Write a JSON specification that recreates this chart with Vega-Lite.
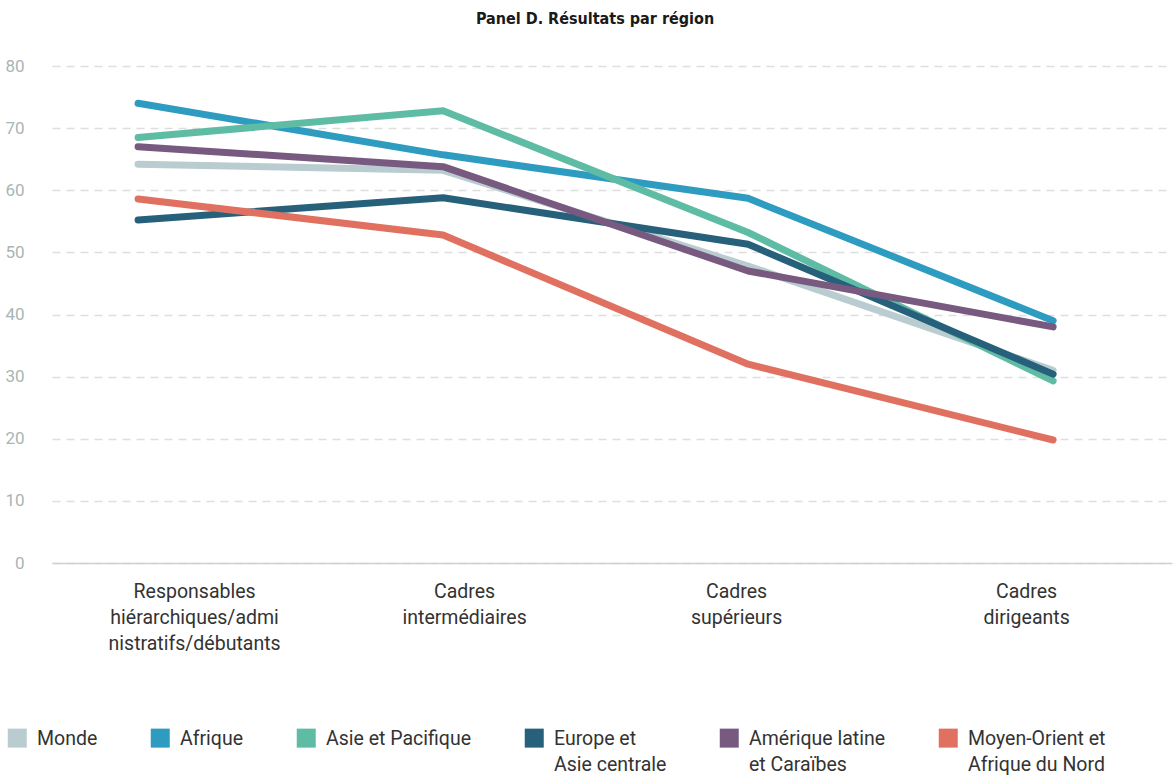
{
  "$schema": "https://vega.github.io/schema/vega-lite/v6.json",
  "width": 1120,
  "height": 497,
  "autosize": {"type": "none"},
  "padding": {"left": 52, "top": 66, "right": 4, "bottom": 216},
  "background": "white",
  "title": {
    "text": "Panel D. Résultats par région",
    "font": "DejaVu Sans Condensed",
    "fontSize": 16,
    "fontWeight": "bold",
    "color": "#1a1a1a",
    "anchor": "middle",
    "frame": "group",
    "dx": -17,
    "offset": 30
  },
  "data": {
    "values": [
      {"region": "Monde", "niveau": "Responsables hiérarchiques/administratifs/débutants", "valeur": 64.2},
      {"region": "Monde", "niveau": "Cadres intermédiaires", "valeur": 63.2},
      {"region": "Monde", "niveau": "Cadres supérieurs", "valeur": 47.8},
      {"region": "Monde", "niveau": "Cadres dirigeants", "valeur": 31.0},
      {"region": "Afrique", "niveau": "Responsables hiérarchiques/administratifs/débutants", "valeur": 74.0},
      {"region": "Afrique", "niveau": "Cadres intermédiaires", "valeur": 65.7},
      {"region": "Afrique", "niveau": "Cadres supérieurs", "valeur": 58.7},
      {"region": "Afrique", "niveau": "Cadres dirigeants", "valeur": 39.0},
      {"region": "Asie et Pacifique", "niveau": "Responsables hiérarchiques/administratifs/débutants", "valeur": 68.5},
      {"region": "Asie et Pacifique", "niveau": "Cadres intermédiaires", "valeur": 72.8},
      {"region": "Asie et Pacifique", "niveau": "Cadres supérieurs", "valeur": 53.2},
      {"region": "Asie et Pacifique", "niveau": "Cadres dirigeants", "valeur": 29.3},
      {"region": "Europe et Asie centrale", "niveau": "Responsables hiérarchiques/administratifs/débutants", "valeur": 55.2},
      {"region": "Europe et Asie centrale", "niveau": "Cadres intermédiaires", "valeur": 58.8},
      {"region": "Europe et Asie centrale", "niveau": "Cadres supérieurs", "valeur": 51.3},
      {"region": "Europe et Asie centrale", "niveau": "Cadres dirigeants", "valeur": 30.4},
      {"region": "Amérique latine et Caraïbes", "niveau": "Responsables hiérarchiques/administratifs/débutants", "valeur": 67.0},
      {"region": "Amérique latine et Caraïbes", "niveau": "Cadres intermédiaires", "valeur": 63.8},
      {"region": "Amérique latine et Caraïbes", "niveau": "Cadres supérieurs", "valeur": 47.0},
      {"region": "Amérique latine et Caraïbes", "niveau": "Cadres dirigeants", "valeur": 38.0},
      {"region": "Moyen-Orient et Afrique du Nord", "niveau": "Responsables hiérarchiques/administratifs/débutants", "valeur": 58.6},
      {"region": "Moyen-Orient et Afrique du Nord", "niveau": "Cadres intermédiaires", "valeur": 52.8},
      {"region": "Moyen-Orient et Afrique du Nord", "niveau": "Cadres supérieurs", "valeur": 32.0},
      {"region": "Moyen-Orient et Afrique du Nord", "niveau": "Cadres dirigeants", "valeur": 19.8}
    ]
  },
  "mark": {"type": "line", "strokeWidth": 7, "strokeCap": "round", "strokeJoin": "round"},
  "encoding": {
    "x": {
      "field": "niveau",
      "type": "ordinal",
      "sort": null,
      "scale": {"type": "point", "padding": 0.336, "align": 0.42},
      "axis": {
        "title": null,
        "labelAngle": 0,
        "ticks": false,
        "grid": false,
        "domain": true,
        "domainColor": "#c9d4d0",
        "domainWidth": 1.5,
        "labelFont": "Roboto",
        "labelFontSize": 19.5,
        "labelColor": "#333333",
        "labelLineHeight": 26,
        "labelBaseline": "top",
        "labelPadding": 19,
        "labelOffset": {
          "condition": [
            {"test": "datum.value == 'Cadres intermédiaires'", "value": 21},
            {"test": "datum.value == 'Cadres supérieurs'", "value": -12},
            {"test": "datum.value == 'Cadres dirigeants'", "value": -27}
          ],
          "value": 56
        },
        "labelExpr": "datum.value == 'Responsables hiérarchiques/administratifs/débutants' ? ['Responsables', 'hiérarchiques/admi', 'nistratifs/débutants'] : split(datum.value, ' ')"
      }
    },
    "y": {
      "field": "valeur",
      "type": "quantitative",
      "scale": {"domain": [0, 80], "nice": false},
      "axis": {
        "title": null,
        "values": [0, 10, 20, 30, 40, 50, 60, 70, 80],
        "domain": false,
        "ticks": false,
        "grid": true,
        "gridColor": "#dedede",
        "gridWidth": 1.5,
        "gridDash": [8, 6],
        "labelFont": "Roboto",
        "labelFontSize": 17,
        "labelColor": "#a9b5b3",
        "labelPadding": 28
      }
    },
    "color": {
      "field": "region",
      "type": "nominal",
      "scale": {
        "domain": ["Monde", "Afrique", "Asie et Pacifique", "Europe et Asie centrale", "Amérique latine et Caraïbes", "Moyen-Orient et Afrique du Nord"],
        "range": ["#b9ccd0", "#2e9cc0", "#5fbca4", "#27607a", "#785a80", "#e07160"]
      },
      "legend": {
        "title": null,
        "orient": "none",
        "legendX": -44.5,
        "legendY": 662,
        "direction": "horizontal",
        "columns": 6,
        "columnPadding": 53,
        "symbolType": "square",
        "symbolSize": 361,
        "symbolStrokeWidth": 0,
        "labelFont": "Roboto",
        "labelFontSize": 19.5,
        "labelColor": "#333333",
        "labelOffset": 10,
        "labelLimit": 300,
        "labelBaseline": "top",
        "labelExpr": "datum.label == 'Europe et Asie centrale' ? ['Europe et', 'Asie centrale'] : datum.label == 'Amérique latine et Caraïbes' ? ['Amérique latine', 'et Caraïbes'] : datum.label == 'Moyen-Orient et Afrique du Nord' ? ['Moyen-Orient et', 'Afrique du Nord'] : [datum.label, '']",
        "encode": {
          "symbols": {
            "update": {
              "fill": {"scale": "color", "field": "value"},
              "fillOpacity": {"value": 1},
              "strokeWidth": {"value": 0}
            }
          },
          "labels": {
            "update": {
              "lineHeight": {"value": 26},
              "dy": {"value": -8}
            }
          }
        }
      }
    }
  },
  "config": {"view": {"stroke": null}}
}
